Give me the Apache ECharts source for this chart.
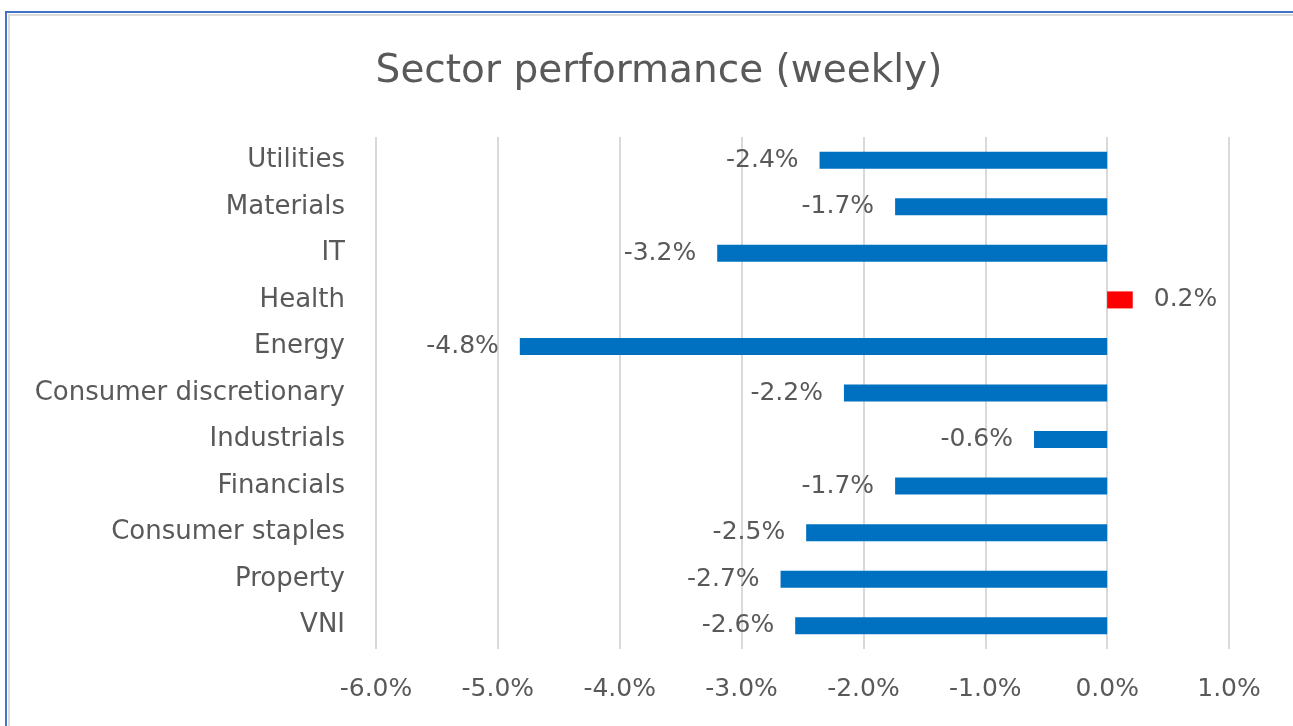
<!DOCTYPE html>
<html>
<head>
<meta charset="utf-8">
<title>Sector performance (weekly)</title>
<script src="https://cdn.jsdelivr.net/npm/echarts@6/dist/echarts.min.js"></script>
<style>
    html, body { margin: 0; padding: 0; background: #fff; }
    #chart { width: 1293px; height: 726px; }
</style>
</head>
<body>
<div id="chart"></div>
<script>
// categories from bottom to top (same order as the chart)
var sectors = ['VNI', 'Property', 'Consumer staples', 'Financials', 'Industrials',
    'Consumer discretionary', 'Energy', 'Health', 'IT', 'Materials', 'Utilities'];
// weekly change, %
var weeklyChange = [-2.56, -2.68, -2.47, -1.74, -0.60, -2.16, -4.82, 0.21, -3.20, -1.74, -2.36];

// x axis ticks
var axisMin = -6;
var axisMax = 1;
var axisStep = 1;

var myChart = echarts.init(document.getElementById('chart'));

//每根柱子: 负数蓝色 label在左, 正数红色 label在右
function buildBars() {
    var list = [];
    for (var i = 0; i < weeklyChange.length; i++) {
        var v = weeklyChange[i];
        list.push({
            value: v,
            itemStyle: { color: v >= 0 ? '#ff0000' : '#0070c0' },
            label: { position: v >= 0 ? 'right' : 'left' }
        });
    }
    return list;
}

var font = '"DejaVu Sans", "Open Sans", sans-serif';

myChart.setOption({
    backgroundColor: '#ffffff',
    animation: false,
    title: {
        text: 'Sector performance (weekly)',
        left: 654,
        textAlign: 'center', // centre the text on the x given by left
        top: 47,
        textStyle: {
            color: '#595959',
            fontFamily: font,
            fontWeight: 'normal',
            fontSize: 39
        }
    },
    graphic: [{
        type: 'rect',
        shape: { x: 6, y: 12, width: 1320, height: 760 },
        style: { fill: 'none', stroke: '#4472c4', lineWidth: 2 }
    }, {
        type: 'rect',
        shape: { x: 9, y: 15, width: 1320, height: 760 },
        style: { fill: 'none', stroke: '#dcdcdc', lineWidth: 2 }
    }],
    grid: {
        left: 376,
        right: 64,
        top: 137,
        bottom: 77
    },
    xAxis: {
        type: 'value',
        min: axisMin,
        max: axisMax,
        interval: axisStep,
        axisLine: { show: false },
        axisTick: { show: false },
        splitLine: { lineStyle: { color: '#d9d9d9', width: 2 } },
        axisLabel: {
            color: '#595959',
            fontFamily: font,
            fontSize: 25,
            margin: 28,
            formatter: function (v) { return v.toFixed(1) + '%'; }
        }
    },
    yAxis: {
        type: 'category',
        data: sectors,
        axisLine: { show: false },
        axisTick: { show: false },
        splitLine: { show: false },
        axisLabel: {
            color: '#595959',
            fontFamily: font,
            fontSize: 26,
            margin: 31
        }
    },
    series: [{
        type: 'bar',
        barWidth: 17,
        data: buildBars(),
        label: {
            show: true,
            distance: 21,
            color: '#595959',
            fontFamily: font,
            fontSize: 25,
            formatter: function (p) { return p.value.toFixed(1) + '%'; }
        }
    }]
});
</script>
</body>
</html>
